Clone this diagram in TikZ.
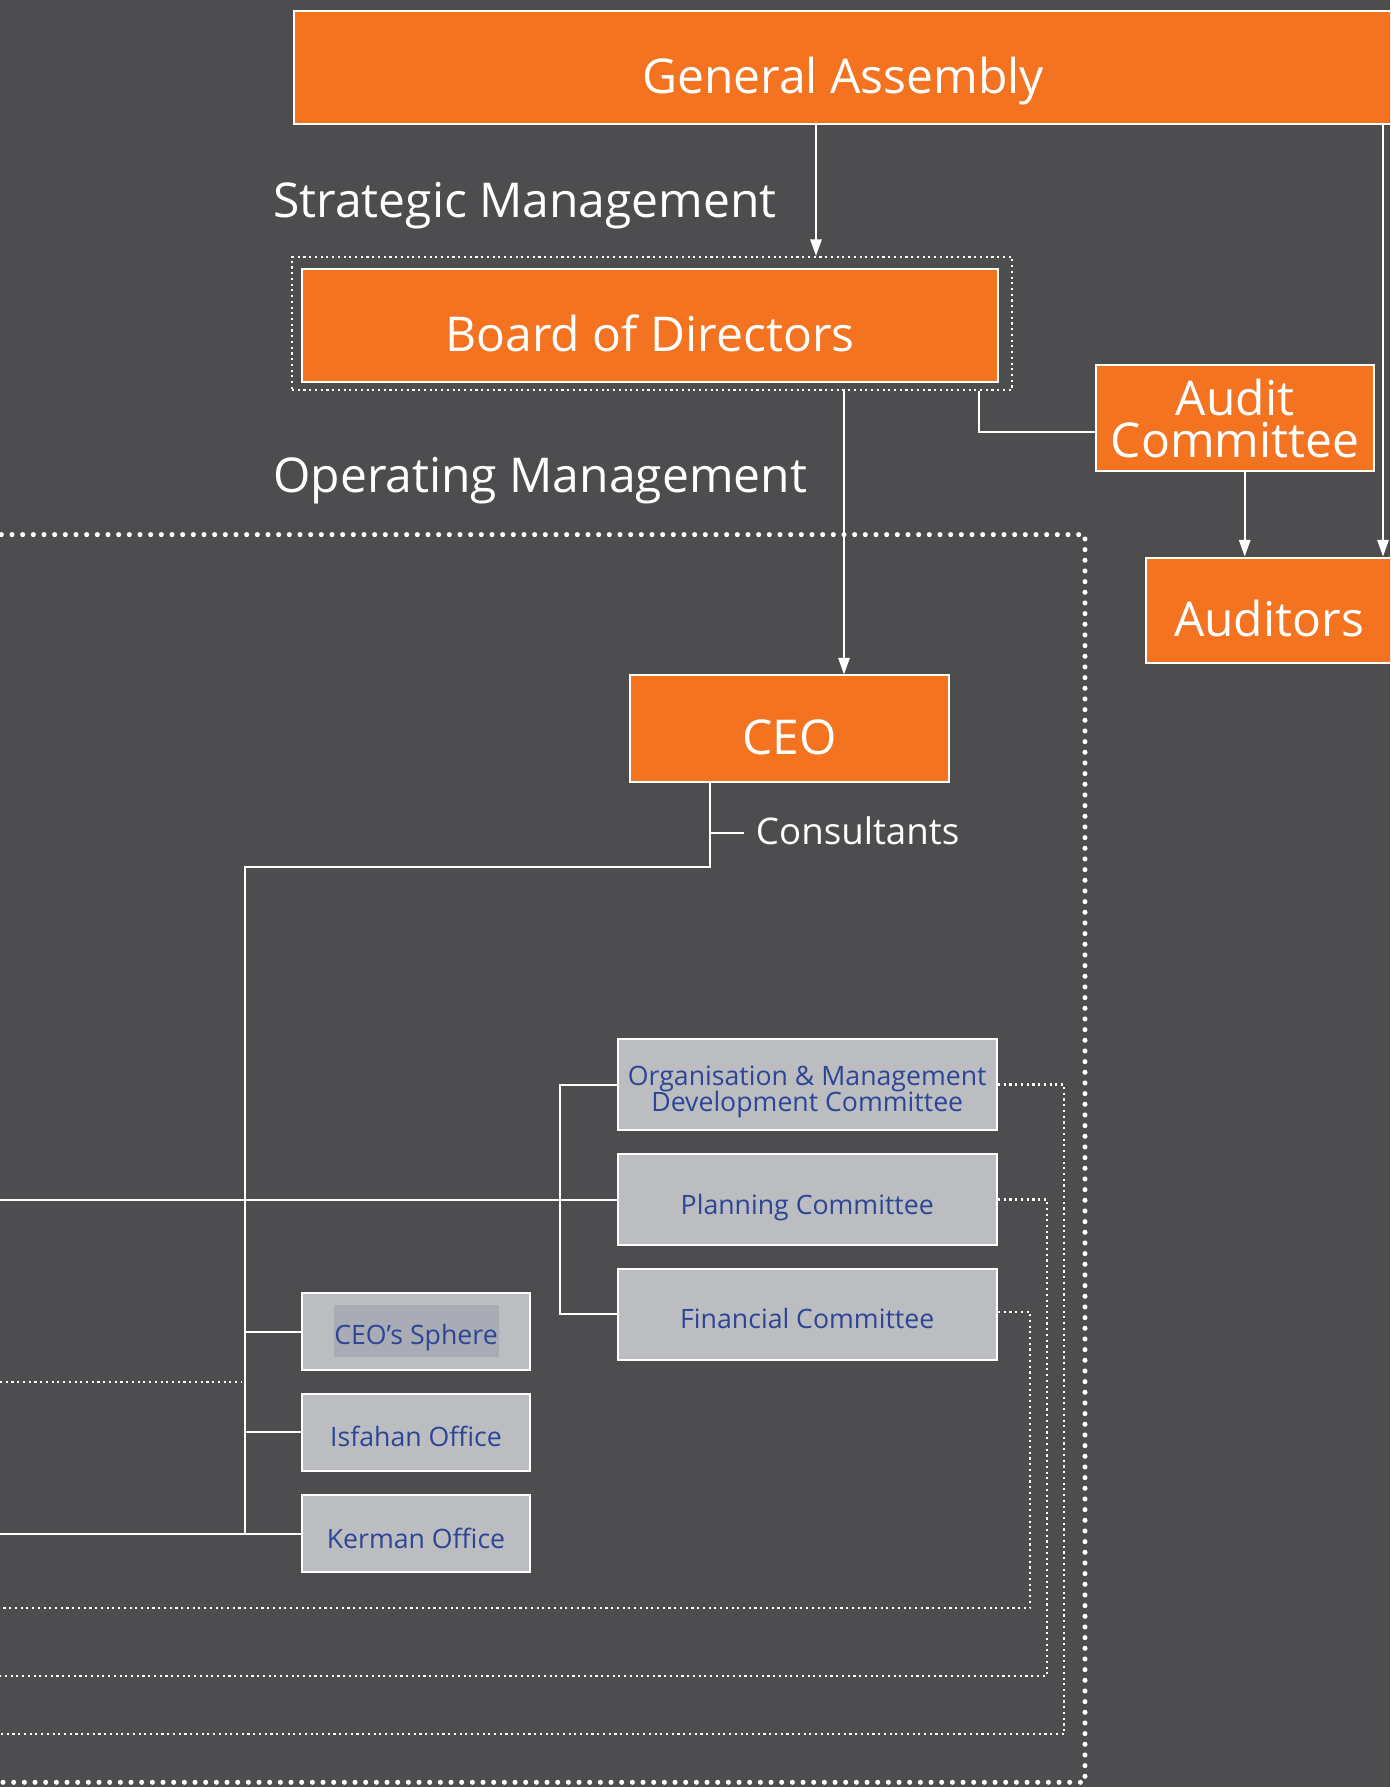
\documentclass[tikz,border=0pt]{standalone}
\usepackage{fontspec}
\setmainfont{Open Sans}
\usetikzlibrary{arrows.meta}
\definecolor{bg}{HTML}{4D4D4F}
\definecolor{orgorange}{HTML}{F37321}
\definecolor{boxgray}{HTML}{BCBDC0}
\definecolor{inkblue}{HTML}{2C4596}
\definecolor{hilite}{HTML}{A9ABB5}
\begin{document}
\begin{tikzpicture}[x=0.75pt,y=-0.75pt,
  unit/.style={draw=white, line width=1.5pt, fill=orgorange, text=white,
    font=\fontsize{36pt}{31pt}\selectfont, inner sep=0pt, align=center,
    text height=38.8pt, text depth=0pt},
  subunit/.style={draw=white, line width=1.5pt, fill=boxgray, text=inkblue,
    font=\fontsize{20pt}{20pt}\selectfont, inner sep=0pt, align=center,
    text height=21.8pt, text depth=0pt},
  link/.style={draw=white, line width=1.5pt},
  arr/.style={link, -{Triangle[length=12.5pt,width=8.5pt]}},
  fineDots/.style={draw=white, line width=1.6pt, dash pattern=on 1.6pt off 2.7pt},
  bigDots/.style={draw=white, line width=3.8pt, line cap=round, dash pattern=on 0pt off 8pt},
  heading/.style={text=white, inner sep=0pt, anchor=base west, font=\fontsize{36pt}{40pt}\selectfont}]

% canvas
\fill[bg] (0,0) rectangle (1390,1787);
\useasboundingbox (0,0) rectangle (1390,1787);
\clip (0,0) rectangle (1390,1787);

% operating management area
\draw[bigDots] (-20,534.6) -- (1085,534.6) -- (1085,1782.3) -- (-20,1782.3);

% top level
\node[unit, minimum width=823.5pt, minimum height=84.75pt] (ga) at (843,68) {General Assembly};
\node[draw=white, fineDots, minimum width=540pt, minimum height=99.75pt, inner sep=0pt] (bframe) at (652,323.5) {};
\node[unit, minimum width=522pt, minimum height=84.75pt] (board) at (650,325.5) {Board of Directors};
\node[unit, minimum width=208.5pt, minimum height=79.3pt, text height=0pt, text depth=0pt] (audit) at (1235,417.85) {};
\node[text=white, font=\fontsize{36pt}{31pt}\selectfont, inner sep=0pt, align=center, anchor=base]
  (audittext) at (1235,457.3) {Audit\\Committee};
\node[unit, minimum width=184.5pt, minimum height=79.1pt] (auditors) at (1269,610.25) {Auditors};
\node[unit, minimum width=239.25pt, minimum height=79.9pt] (ceo) at (789.5,728.75) {CEO};

\node[heading] (strat) at (273,217.9) {Strategic Management};
\node[heading] (oper) at (273,492) {Operating Management};
\node[heading, font=\fontsize{27.5pt}{30pt}\selectfont] (consult) at (755.7,844.3) {Consultants};

% committees
\node[subunit, minimum width=284.6pt, minimum height=68.25pt, text height=0pt, text depth=0pt] (org) at (807.25,1084.5) {};
\node[text=inkblue, font=\fontsize{20pt}{20pt}\selectfont, inner sep=0pt, align=center, anchor=base]
  (orgtext) at (807.25,1111.7) {Organisation \& Management\\Development Committee};
\node[subunit, minimum width=284.6pt, minimum height=68.25pt] (plan) at (807.25,1199.5) {Planning Committee};
\node[subunit, minimum width=284.6pt, minimum height=68.25pt] (fin) at (807.25,1314) {Financial Committee};

% offices
\node[subunit, minimum width=171pt, minimum height=57.75pt] (sphere) at (416,1331.5) {};
\node[fill=hilite, text=inkblue, font=\fontsize{20pt}{20pt}\selectfont, inner sep=0pt,
  minimum width=123.75pt, minimum height=39pt, text height=20.5pt, text depth=0pt] (spheretext) at (416,1331) {CEO’s Sphere};
\node[subunit, minimum width=171pt, minimum height=57.75pt] (isf) at (416,1432) {Isfahan Office};
\node[subunit, minimum width=171pt, minimum height=57.75pt] (ker) at (416,1533.5) {Kerman Office};

% reporting lines, top
\draw[arr] (816,0 |- ga.south) -- (816,0 |- bframe.north);
\draw[arr] (844,0 |- bframe.south) -- (844,0 |- ceo.north);
\draw[link] (979,0 |- bframe.south) |- (audit.west |- 0,432);
\draw[arr] (1244.7,0 |- audit.south) -- (1244.7,0 |- auditors.north);
\draw[arr] (1383,0 |- ga.south) -- (1383,0 |- auditors.north);

% CEO tree
\coordinate (hub) at (245,867);
\coordinate (cbus) at (560,1199.5);
\coordinate (leftA) at (0,1199.5);
\draw[link] (710,0 |- ceo.south) |- (hub) -- (hub |- ker.west);
\draw[link] (710,833) -- ([xshift=-9pt]consult.west |- 0,833);
\draw[link] (leftA) -- (plan.west);
\draw[link] (org.west) -| (cbus) |- (fin.west);
\draw[link] (hub |- sphere.west) -- (sphere.west);
\draw[link] (hub |- isf.west) -- (isf.west);
\draw[link] (0,0 |- ker.west) -- (ker.west);

% dotted links
\coordinate (dotA1) at (0,1382);
\coordinate (dotA2) at (241,1382);
\draw[fineDots] (dotA1) -- (dotA2);
\coordinate (orgEnd) at (0,1734.3);
\coordinate (planEnd) at (0,1675.7);
\coordinate (finEnd) at (0,1608.3);
\draw[fineDots] (org.east) -| (1064.3,1734.3) -- (orgEnd);
\draw[fineDots] (plan.east) -| (1047,1675.7) -- (planEnd);
\draw[fineDots] (fin.east |- 0,1311.7) -| (1030,1608.3) -- (finEnd);
\end{tikzpicture}
\end{document}
